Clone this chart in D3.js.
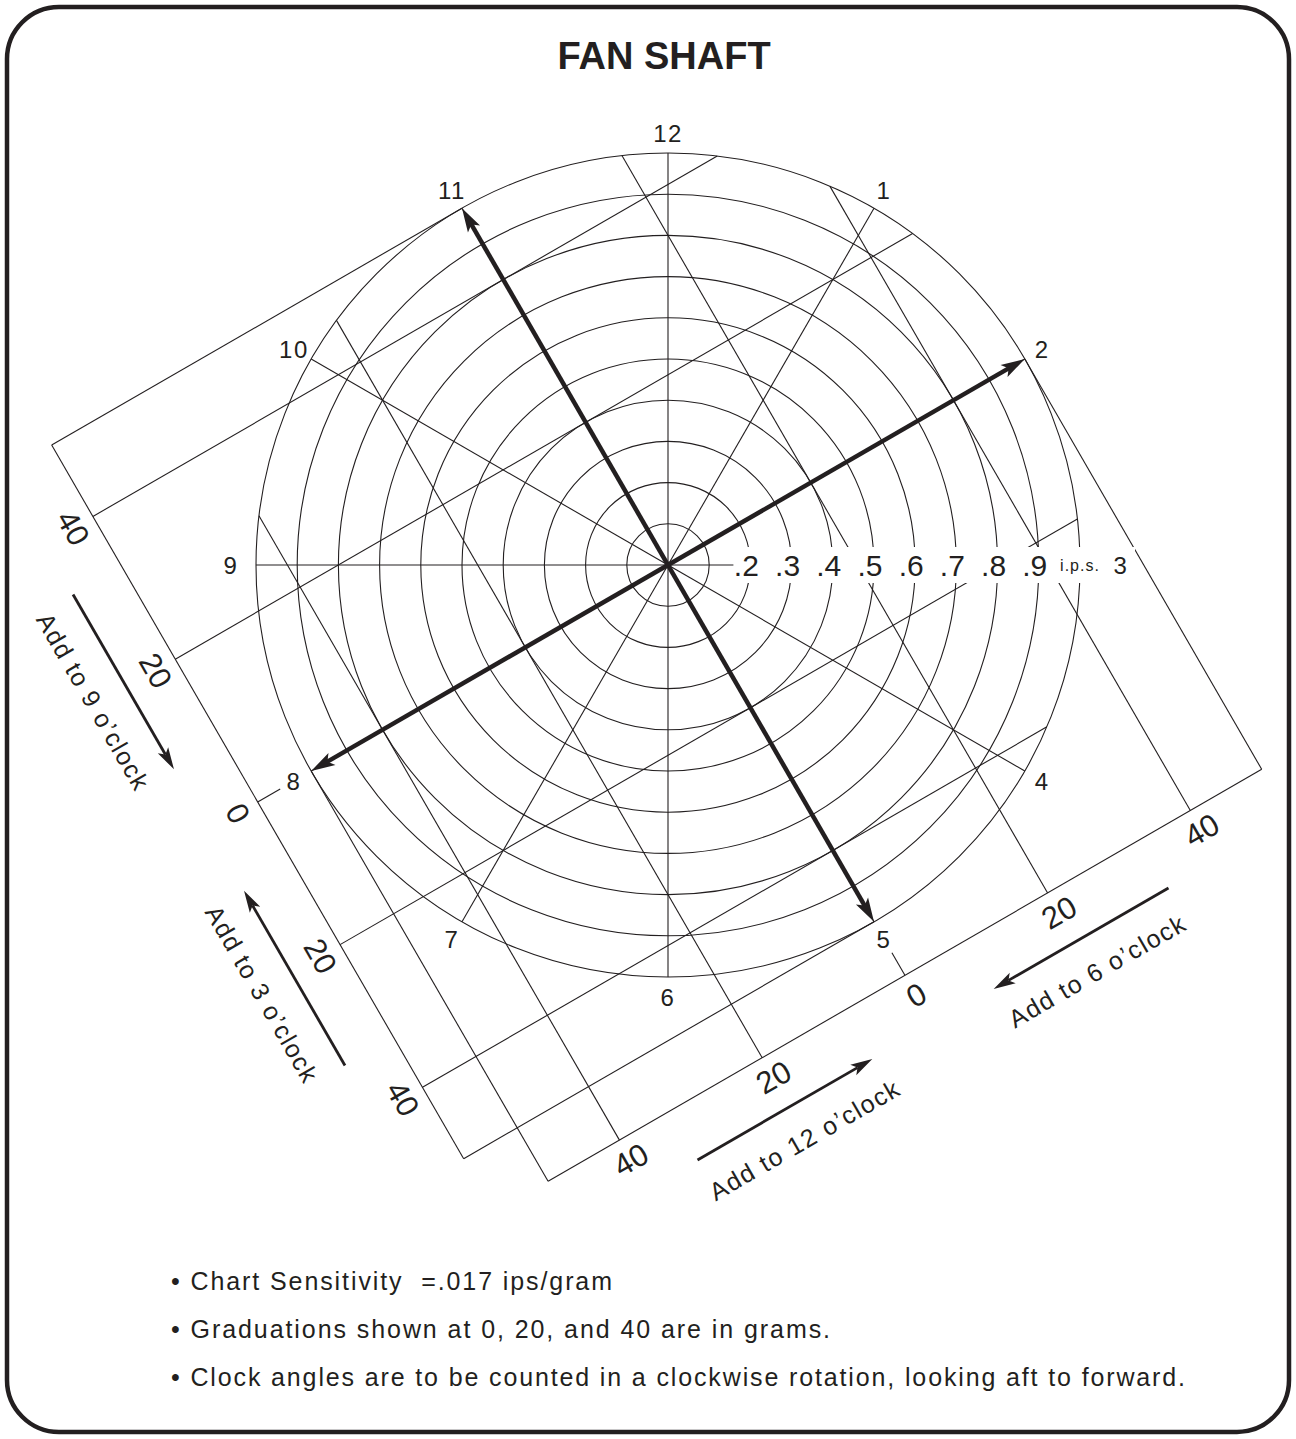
<!DOCTYPE html>
<html>
<head>
<meta charset="utf-8">
<script src="https://cdn.jsdelivr.net/npm/d3@7"></script>
<style>
  html, body { margin: 0; padding: 0; background: #fff; }
  svg { display: block; }
  text { font-family: "Liberation Sans", Arial, Helvetica, sans-serif; fill: #231f20; }
</style>
</head>
<body>
<script>
// ---- chart content ----
const title = "FAN SHAFT";
const ringValues = [0.1, 0.2, 0.3, 0.4, 0.5, 0.6, 0.7, 0.8, 0.9, 1.0];   // ips
const ringLabels = [0.2, 0.3, 0.4, 0.5, 0.6, 0.7, 0.8, 0.9];
const ringUnit = "i.p.s.";
const clockHours = [12, 1, 2, 3, 4, 5, 6, 7, 8, 9, 10, 11];
const axisPairs = [[11, 5], [2, 8]];
const gridGrams = [-50, -40, -20, 20, 40, 50];          // weight grid lines (g)
const gramTicks = [-40, -20, 0, 20, 40];                // labelled graduations (g)
const gramTickLabels = ["40", "20", "0", "20", "40"];
const weightScaleA = ["Add to 9 o\u2019clock", "Add to 3 o\u2019clock"];
const weightScaleB = ["Add to 12 o\u2019clock", "Add to 6 o\u2019clock"];
const footNotes = [
  "\u2022 Chart Sensitivity  =.017 ips/gram",
  "\u2022 Graduations shown at 0, 20, and 40 are in grams.",
  "\u2022 Clock angles are to be counted in a clockwise rotation, looking aft to forward."
];

// ---- layout ----
const W = 1296, H = 1439;
const cx = 668, cy = 565, R = 412;
const INK = "#231f20";

const svg = d3.select("body").append("svg").attr("width", W).attr("height", H);

// scales
const r = d3.scaleLinear().domain([0, 1]).range([0, R]);          // ips -> px
const gram = d3.scaleLinear().domain([0, 50]).range([0, R]);      // grams -> px (50 g edge tangent to outer ring)
const hourDeg = d3.scaleLinear().domain([0, 12]).range([0, 360]); // clock hour -> degrees clockwise from 12
const polar = (h, rr) => {
  const a = hourDeg(h) * Math.PI / 180;
  return [rr * Math.sin(a), -rr * Math.cos(a)];
};
const edge = gram(57.5);   // distance of the graduated edges from the centre

// outer rounded border
svg.append("rect")
  .attr("x", 7).attr("y", 7).attr("width", W - 14).attr("height", H - 14)
  .attr("rx", 52).attr("ry", 52)
  .attr("fill", "none").attr("stroke", INK).attr("stroke-width", 4.5);

svg.append("text")
  .attr("x", 664).attr("y", 69)
  .attr("text-anchor", "middle")
  .attr("font-size", 38).attr("font-weight", "bold")
  .text(title);

const g = svg.append("g").attr("transform", `translate(${cx},${cy})`);
const thin = sel => sel.attr("fill", "none").attr("stroke", INK).attr("stroke-width", 1.1);

// velocity rings
g.selectAll("circle.ring").data(ringValues).join("circle")
  .attr("class", "ring").attr("r", d => r(d)).call(thin);

// clock spokes
g.selectAll("line.spoke").data(clockHours).join("line")
  .attr("class", "spoke")
  .attr("x1", 0).attr("y1", 0)
  .attr("x2", d => polar(d, r(1))[0]).attr("y2", d => polar(d, r(1))[1])
  .call(thin);

// weight grids, drawn in a frame aligned with the 2-8 axis
const frame = g.append("g").attr("transform", "rotate(-30)");
const chord = v => Math.sqrt(Math.max(0, R * R - v * v));

// 9/3 o'clock grid: lines parallel to 2-8 axis
frame.selectAll("line.gridA").data(gridGrams).join("line")
  .attr("class", "gridA")
  .attr("x1", -edge).attr("x2", d => chord(gram(d)))
  .attr("y1", d => gram(d)).attr("y2", d => gram(d))
  .call(thin);
frame.append("line")
  .attr("x1", -edge).attr("x2", -edge)
  .attr("y1", gram(-50)).attr("y2", gram(50)).call(thin);
frame.append("line")
  .attr("x1", -edge).attr("x2", -edge + 26)
  .attr("y1", gram(0)).attr("y2", gram(0)).call(thin);

// 12/6 o'clock grid: lines parallel to 11-5 axis
frame.selectAll("line.gridB").data(gridGrams).join("line")
  .attr("class", "gridB")
  .attr("y1", edge).attr("y2", d => -chord(gram(d)))
  .attr("x1", d => gram(d)).attr("x2", d => gram(d))
  .call(thin);
frame.append("line")
  .attr("y1", edge).attr("y2", edge)
  .attr("x1", gram(-50)).attr("x2", gram(50)).call(thin);
frame.append("line")
  .attr("y1", edge).attr("y2", edge - 26)
  .attr("x1", gram(0)).attr("x2", gram(0)).call(thin);

// graduation labels
frame.selectAll("text.tickA").data(gramTicks).join("text")
  .attr("class", "tickA")
  .attr("transform", d => `translate(${-(edge + 23)},${gram(d)}) rotate(90)`)
  .attr("text-anchor", "middle").attr("dominant-baseline", "central")
  .attr("font-size", 31)
  .text((d, i) => gramTickLabels[i]);
frame.selectAll("text.tickB").data(gramTicks).join("text")
  .attr("class", "tickB")
  .attr("transform", d => `translate(${gram(d)},${edge + 23})`)
  .attr("text-anchor", "middle").attr("dominant-baseline", "central")
  .attr("font-size", 31)
  .text((d, i) => gramTickLabels[i]);

// arrow helper: shaft from p0 to tip p1 with a swept head
function arrow(parent, p0, p1, width, headLen, headHalf) {
  const dx = p1[0] - p0[0], dy = p1[1] - p0[1];
  const L = Math.hypot(dx, dy), ux = dx / L, uy = dy / L;
  const nx = -uy, ny = ux;
  const base = [p1[0] - ux * headLen, p1[1] - uy * headLen];
  const notch = [p1[0] - ux * headLen * 0.78, p1[1] - uy * headLen * 0.78];
  parent.append("path")
    .attr("d", d3.line()([p0, notch]))
    .attr("stroke", INK).attr("stroke-width", width).attr("fill", "none");
  parent.append("path")
    .attr("d", d3.line()([p1,
      [base[0] + nx * headHalf, base[1] + ny * headHalf],
      notch,
      [base[0] - nx * headHalf, base[1] - ny * headHalf]]) + "Z")
    .attr("fill", INK).attr("stroke", "none");
}

// weight direction arrows and captions
const arrowOff = 530, capOff = 566;
const far = gram(33), near = gram(8.5);
arrow(frame, [-arrowOff, -far], [-arrowOff, -near], 2.8, 22, 6);
arrow(frame, [-arrowOff, far], [-arrowOff, near], 2.8, 22, 6);
arrow(frame, [-far, arrowOff], [-near, arrowOff], 2.8, 22, 6);
arrow(frame, [far, arrowOff], [near, arrowOff], 2.8, 22, 6);

frame.selectAll("text.capA").data(weightScaleA).join("text")
  .attr("class", "capA")
  .attr("transform", (d, i) => `translate(${-capOff},${(i === 0 ? -1 : 1) * gram(20.5)}) rotate(90)`)
  .attr("text-anchor", "middle").attr("dominant-baseline", "central")
  .attr("font-size", 25).attr("letter-spacing", 1.5)
  .text(d => d);
frame.selectAll("text.capB").data(weightScaleB).join("text")
  .attr("class", "capB")
  .attr("transform", (d, i) => `translate(${(i === 0 ? -1 : 1) * gram(20.5)},${capOff})`)
  .attr("text-anchor", "middle").attr("dominant-baseline", "central")
  .attr("font-size", 25).attr("letter-spacing", 1.5)
  .text(d => d);

// clear band behind the ips scale
g.append("rect")
  .attr("x", r(0.2) - 17).attr("y", -18)
  .attr("width", r(1) + 55 - (r(0.2) - 17)).attr("height", 36)
  .attr("fill", "#fff");

g.selectAll("text.ips").data(ringLabels).join("text")
  .attr("class", "ips")
  .attr("x", d => r(d) + 8.5).attr("y", 0)
  .attr("text-anchor", "end").attr("dominant-baseline", "central")
  .attr("font-size", 30)
  .text(d => d3.format(".1f")(d).replace(/^0/, ""));
g.append("text")
  .attr("x", r(1)).attr("y", 0)
  .attr("text-anchor", "middle").attr("dominant-baseline", "central")
  .attr("font-size", 16).attr("letter-spacing", 1)
  .text(ringUnit);

// clock labels
const labelR = h => h === 3 ? R + 41 : h === 9 ? R + 25 : R + 20;
g.selectAll("text.hour").data(clockHours).join("text")
  .attr("class", "hour")
  .attr("x", d => polar(d, labelR(d))[0])
  .attr("y", d => polar(d, labelR(d))[1])
  .attr("text-anchor", "middle").attr("dominant-baseline", "central")
  .attr("font-size", 24).attr("letter-spacing", 1.5)
  .text(d => d);

// balance axes
axisPairs.forEach(([a, b]) => {
  const pa = polar(a, r(1)), pb = polar(b, r(1));
  arrow(g, [0, 0], pa, 4.5, 24, 7);
  arrow(g, [0, 0], pb, 4.5, 24, 7);
});

// notes
const notes = svg.append("g");
const noteWidths = [441, 659, 1014];
notes.selectAll("text").data(footNotes).join("text")
  .attr("x", 171).attr("y", (d, i) => 1290 + i * 48)
  .attr("font-size", 25)
  .attr("textLength", (d, i) => noteWidths[i])
  .attr("lengthAdjust", "spacing")
  .style("white-space", "pre")
  .text(d => d);
</script>
</body>
</html>
